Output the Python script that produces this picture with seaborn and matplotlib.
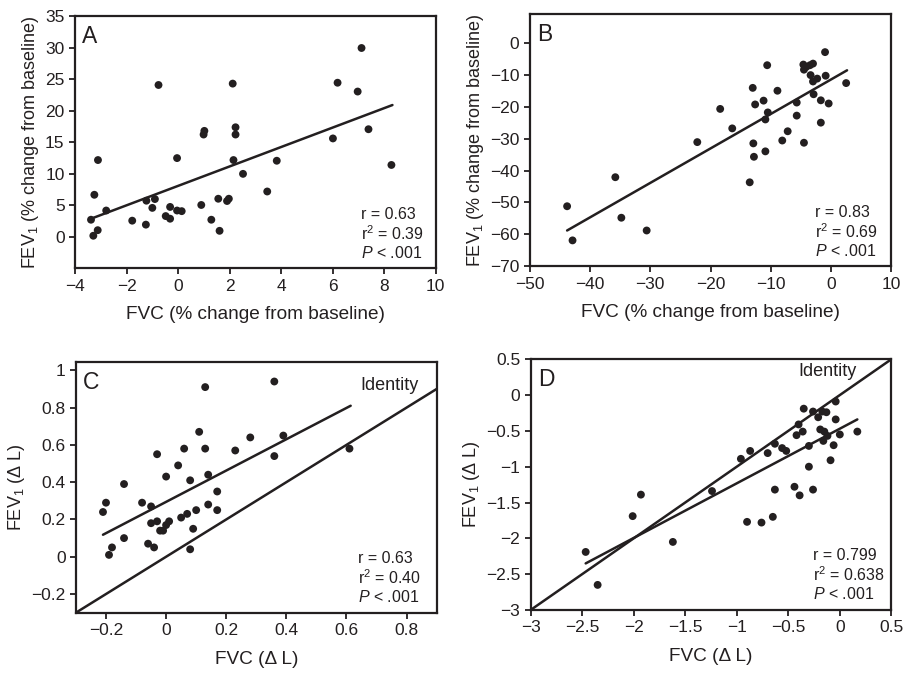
import matplotlib
matplotlib.use("Agg")
import matplotlib.pyplot as plt
import numpy as np
import pandas as pd
import seaborn as sns
from matplotlib.ticker import FuncFormatter

# Panel A: % change from baseline
a_fvc = [-3.38, -3.29, -3.25, -3.12, -3.11, -2.79, -1.78, -1.25, -1.23, -0.90,
         -1.00, -0.76, -0.48, -0.31, -0.31, -0.04, -0.04, 0.14, 0.90, 0.99,
         1.02, 1.29, 1.56, 1.61, 1.90, 1.97, 2.12, 2.15, 2.23, 2.23,
         2.52, 3.46, 3.83, 6.01, 6.19, 6.97, 7.12, 7.39, 8.28]
a_fev = [2.7, 0.16, 6.66, 1.04, 12.17, 4.16, 2.55, 1.92, 5.72, 5.98,
         4.58, 24.08, 3.28, 2.86, 4.73, 12.48, 4.16, 4.06, 5.04, 16.22,
         16.8, 2.7, 6.03, 0.94, 5.67, 6.03, 24.3, 12.17, 17.37, 16.22,
         9.98, 7.18, 12.06, 15.6, 24.44, 23.04, 29.95, 17.06, 11.39]
a_fit_x = [-3.38, 8.32]
a_fit_y = [2.86, 20.9]

# Panel B: % change from baseline
b_fvc = [-43.8, -42.9, -35.8, -34.8, -30.6, -22.2, -18.4, -16.4, -13.5, -13.0,
         -12.9, -12.8, -12.6, -11.2, -10.9, -10.9, -10.6, -10.5, -8.9, -8.1,
         -7.2, -5.7, -5.7, -4.6, -4.5, -4.5, -4.1, -3.5, -3.4, -3.0,
         -3.0, -2.9, -2.3, -1.7, -1.7, -1.0, -0.9, -0.4, 2.5]
b_fev = [-51.2, -61.9, -42.1, -54.8, -58.8, -31.1, -20.7, -26.8, -43.7, -14.1,
         -31.5, -35.7, -19.3, -18.1, -24.0, -34.0, -7.0, -21.8, -15.0, -30.6,
         -27.7, -18.7, -22.8, -6.8, -8.4, -31.3, -7.5, -7.0, -10.1, -6.5,
         -12.1, -16.1, -11.2, -18.0, -25.0, -2.9, -10.3, -19.0, -12.6]
b_fit_x = [-43.8, 2.65]
b_fit_y = [-58.8, -8.6]

# Panel C: absolute change (L)
c_fvc = [-0.21, -0.20, -0.19, -0.18, -0.14, -0.14, -0.08, -0.06, -0.05, -0.05,
         -0.04, -0.03, -0.03, -0.02, -0.01, 0.00, 0.00, 0.01, 0.04, 0.05,
         0.06, 0.07, 0.08, 0.08, 0.09, 0.10, 0.11, 0.13, 0.13, 0.14,
         0.14, 0.17, 0.17, 0.23, 0.28, 0.36, 0.36, 0.39, 0.61]
c_fev = [0.24, 0.29, 0.01, 0.05, 0.39, 0.10, 0.29, 0.07, 0.27, 0.18,
         0.05, 0.55, 0.19, 0.14, 0.14, 0.17, 0.43, 0.19, 0.49, 0.21,
         0.58, 0.23, 0.41, 0.04, 0.15, 0.25, 0.67, 0.91, 0.58, 0.28,
         0.44, 0.25, 0.35, 0.57, 0.64, 0.94, 0.54, 0.65, 0.58]
c_fit_x = [-0.21, 0.614]
c_fit_y = [0.118, 0.81]

# Panel D: absolute change (L)
d_fvc = [-2.466, -2.35, -2.01, -1.93, -1.62, -1.24, -0.96, -0.90, -0.87, -0.76,
         -0.70, -0.65, -0.63, -0.63, -0.56, -0.52, -0.44, -0.42, -0.40, -0.39,
         -0.36, -0.35, -0.30, -0.30, -0.26, -0.26, -0.21, -0.19, -0.17, -0.16,
         -0.15, -0.13, -0.12, -0.09, -0.06, -0.04, -0.04, 0.00, 0.17]
d_fev = [-2.19, -2.65, -1.69, -1.39, -2.05, -1.34, -0.89, -1.77, -0.78, -1.78,
         -0.81, -1.70, -0.68, -1.32, -0.74, -0.78, -1.28, -0.56, -0.41, -1.40,
         -0.51, -0.19, -0.71, -1.00, -0.23, -1.32, -0.31, -0.48, -0.23, -0.64,
         -0.51, -0.24, -0.57, -0.91, -0.70, -0.09, -0.34, -0.55, -0.51]
d_fit_x = [-2.466, 0.17]
d_fit_y = [-2.35, -0.34]

stats_a = ["0.63", "0.39"]
stats_b = ["0.83", "0.69"]
stats_c = ["0.63", "0.40"]
stats_d = ["0.799", "0.638"]

sns.set_style("ticks")
plt.rcParams['font.family'] = ['Liberation Sans', 'DejaVu Sans']
plt.rcParams['mathtext.fontset'] = 'custom'
plt.rcParams['mathtext.rm'] = 'Liberation Sans'
plt.rcParams['mathtext.it'] = 'Liberation Sans:italic'

ink = "#231f20"
fig = plt.figure(figsize=(9.04, 6.74), dpi=100)
ax_a = fig.add_axes([0.083, 0.602, 0.399, 0.374])
ax_b = fig.add_axes([0.586, 0.605, 0.400, 0.374])
ax_c = fig.add_axes([0.084, 0.091, 0.399, 0.372])
ax_d = fig.add_axes([0.587, 0.095, 0.399, 0.372])

fmt = FuncFormatter(lambda v, p: ('%g' % round(v, 6)).replace('-', '\u2212'))


def panel(ax, xs, ys, fx, fy, letter, stats, lx, xlabel, ylabel):
    df = pd.DataFrame({"x": xs, "y": ys})
    sns.scatterplot(data=df, x="x", y="y", ax=ax, color=ink, s=32,
                    edgecolor="none", zorder=3)
    sns.lineplot(x=fx, y=fy, ax=ax, color=ink, lw=1.8)
    ax.set_xlabel(xlabel, fontsize=13.7, color=ink, labelpad=9)
    ax.set_ylabel(ylabel, fontsize=13, color=ink, labelpad=3)
    for s in ax.spines.values():
        s.set_visible(True)
        s.set_linewidth(1.6)
        s.set_color(ink)
    ax.tick_params(axis="both", labelsize=12.5, colors=ink, width=1.3, length=4,
                   direction="out", top=False, right=False)
    ax.xaxis.set_major_formatter(fmt)
    ax.yaxis.set_major_formatter(fmt)
    ax.text(0.02, 0.965, letter, transform=ax.transAxes, fontsize=16.5,
            color=ink, ha="left", va="top")
    txt = ("r = %s\nr$^\\mathregular{2}$ = %s\n$\\mathit{P}$ < .001"
           % (stats[0], stats[1]))
    ax.text(lx, 0.03, txt, transform=ax.transAxes, fontsize=11.5,
            color=ink, ha="left", va="bottom", linespacing=1.15)


ylab_pct = "FEV$_\\mathregular{1}$ (% change from baseline)"
xlab_pct = "FVC (% change from baseline)"
ylab_l = "FEV$_\\mathregular{1}$ (\u0394 L)"
xlab_l = "FVC (\u0394 L)"

panel(ax_a, a_fvc, a_fev, a_fit_x, a_fit_y, "A", stats_a, 0.794, xlab_pct, ylab_pct)
ax_a.set_xlim(-4, 10)
ax_a.set_ylim(-5, 35)
ax_a.set_xticks(np.arange(-4, 11, 2))
ax_a.set_yticks(np.arange(0, 36, 5))

panel(ax_b, b_fvc, b_fev, b_fit_x, b_fit_y, "B", stats_b, 0.79, xlab_pct, ylab_pct)
ax_b.set_xlim(-50, 10)
ax_b.set_ylim(-70, 9)
ax_b.set_xticks(np.arange(-50, 11, 10))
ax_b.set_yticks(np.arange(-70, 1, 10))

panel(ax_c, c_fvc, c_fev, c_fit_x, c_fit_y, "C", stats_c, 0.782, xlab_l, ylab_l)
ax_c.axline((0, 0), slope=1, color=ink, lw=1.8)
ax_c.set_xlim(-0.3, 0.9)
ax_c.set_ylim(-0.3, 1.045)
ax_c.set_xticks([-0.2, 0, 0.2, 0.4, 0.6, 0.8])
ax_c.set_yticks([-0.2, 0, 0.2, 0.4, 0.6, 0.8, 1.0])
ax_c.text(0.647, 0.918, "Identity", fontsize=13, color=ink, ha="left", va="center")

panel(ax_d, d_fvc, d_fev, d_fit_x, d_fit_y, "D", stats_d, 0.783, xlab_l, ylab_l)
ax_d.axline((0, 0), slope=1, color=ink, lw=1.8)
ax_d.set_xlim(-3, 0.5)
ax_d.set_ylim(-3, 0.5)
ax_d.set_xticks(np.arange(-3, 0.51, 0.5))
ax_d.set_yticks(np.arange(-3, 0.51, 0.5))
ax_d.text(-0.40, 0.33, "Identity", fontsize=13, color=ink, ha="left", va="center")

fig.savefig("out.png", dpi=100)
